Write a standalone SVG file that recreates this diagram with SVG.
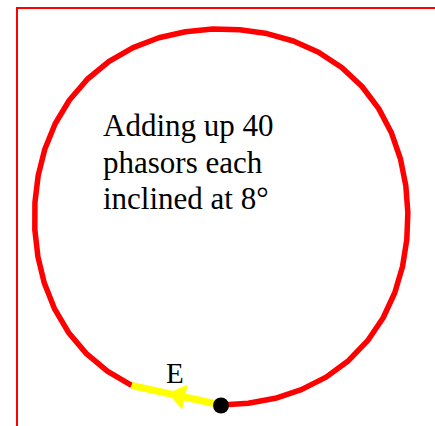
<svg xmlns="http://www.w3.org/2000/svg" width="435" height="426" viewBox="0 0 435 426">
<style>
.frame{fill:none;stroke:#ff0000;stroke-width:2}
.chain{fill:none;stroke:#ff0000;stroke-width:5.5;stroke-linejoin:round;stroke-linecap:butt}
.res{stroke:#ffff00;stroke-width:7;stroke-linecap:butt}
.lbl{font-family:"Liberation Serif","Times New Roman",serif;fill:#000}
</style>
<rect width="435" height="426" fill="#ffffff"/>
<path class="frame" d="M17,426 V8 H435"/>
<g id="phasors">
<polyline class="chain" points="221.2,404.9 248.39,403.28 275.28,398.30 301.40,389.67 326.10,377.14 348.43,360.71 367.67,340.67 383.19,317.73 394.77,292.73 402.54,266.51 406.80,239.69 407.86,212.66 405.82,185.67 400.49,158.99 391.56,133.07 378.75,108.62 362.02,86.50 341.72,67.53 318.54,52.30 293.34,41.01 266.91,33.56 239.89,29.66 212.67,29.05 185.54,31.70 158.83,37.80 133.08,47.62 109.04,61.39 87.57,79.00 69.45,100.04 55.16,123.72 44.80,149.19 38.17,175.65 34.93,202.57 34.83,229.61 37.89,256.53 44.30,283.04 54.42,308.59 68.48,332.40 86.38,353.62 107.66,371.47 131.57,385.46"/>
</g>
<g id="resultant">
<line class="res" x1="221" y1="405" x2="131.6" y2="385.5"/>
<polygon points="168.2,393.3 187.7,384.4 182.1,409.8" fill="#ffff00"/>
<text class="lbl" x="166" y="383" font-size="29">E</text>
</g>
<g id="origin">
<circle cx="221" cy="405.5" r="8" fill="#000"/>
</g>
<g id="caption">
<text class="lbl" font-size="31">
<tspan x="103" y="136">Adding up 40</tspan>
<tspan x="103" y="172.5">phasors each</tspan>
<tspan x="103" y="209">inclined at 8°</tspan>
</text>
</g>
</svg>
